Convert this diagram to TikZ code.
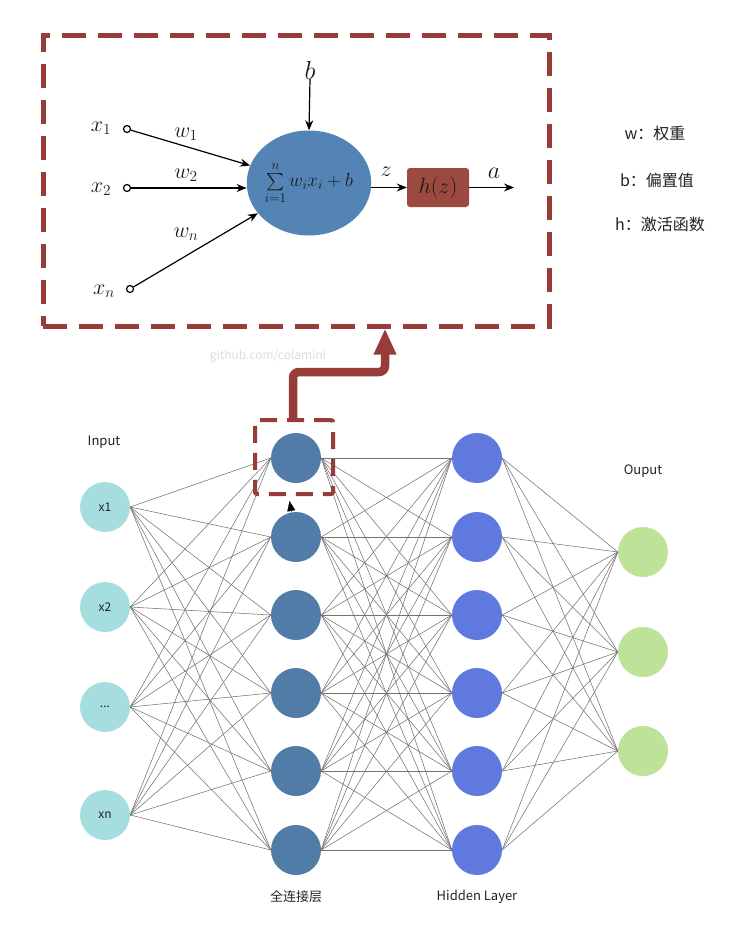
\documentclass[tikz,border=0pt]{standalone}
\usepackage{fix-cm}
\usepackage{amsmath}
\usepackage{fontspec}
\newfontfamily\cjk{Noto Sans CJK SC}
\usetikzlibrary{shapes.geometric,arrows.meta,backgrounds}
\definecolor{inputc}{HTML}{A6DEE0}
\definecolor{fcc}{HTML}{527CA8}
\definecolor{hidc}{HTML}{6079DF}
\definecolor{outc}{HTML}{BDE298}
\definecolor{boxred}{HTML}{973C38}
\definecolor{neub}{HTML}{5384B5}
\definecolor{hzc}{HTML}{9C4A40}
\definecolor{edgec}{HTML}{737373}
\definecolor{wmark}{HTML}{DCDCDC}
\definecolor{txt}{HTML}{222222}
\definecolor{mtxt}{HTML}{1A1A1A}
\tikzset{
  neuron/.style={circle,minimum size=50pt,inner sep=0pt,font=\cjk\fontsize{12}{14}\selectfont,text=txt},
  inp/.style={neuron,fill=inputc},
  fcn/.style={neuron,fill=fcc},
  hidn/.style={neuron,fill=hidc},
  outn/.style={neuron,fill=outc},
  conn/.style={draw=edgec,line width=0.55pt},
  lbl/.style={font=\cjk\fontsize{13}{15}\selectfont,text=txt},
  note/.style={font=\cjk\fontsize{16}{18}\selectfont,text=txt},
  mlab/.style={font=\fontsize{22}{26}\selectfont,inner sep=0pt,text=mtxt},
  port/.style={circle,draw,line width=1.2pt,minimum size=7pt,inner sep=0pt},
  marr/.style={line width=1.2pt,-{Stealth[length=10pt,width=8pt]}},
  bigbox/.style={draw=boxred,line width=5pt,dash pattern=on 24pt off 12pt,minimum width=506pt,minimum height=291pt,inner sep=0pt},
  smallbox/.style={draw=boxred,line width=4pt,dash pattern=on 17pt off 10pt,minimum width=78pt,minimum height=74pt,inner sep=0pt,rounded corners=2pt},
}
\begin{document}
\begin{tikzpicture}[x=1pt,y=-1pt]
\useasboundingbox (0,0) rectangle (742,948);
% ---------- network ----------
\node[inp] (in1) at (105,507) {x1};
\node[inp] (in2) at (105,607) {x2};
\node[inp] (in3) at (105,707) {...};
\node[inp] (in4) at (105,815) {xn};
\foreach \i/\y in {1/458,2/537,3/615,4/693,5/771,6/850}{
  \node[fcn] (f\i) at (296,\y) {};
  \node[hidn] (h\i) at (477,\y) {};
}
\foreach \i/\y in {1/552,2/652,3/751}
  \node[outn] (o\i) at (643,\y) {};
\begin{scope}[on background layer]
\foreach \a in {1,2,3,4}\foreach \b in {1,2,3,4,5,6}
  \draw[conn] (in\a.east) -- (f\b.west);
\foreach \a in {1,2,3,4,5,6}\foreach \b in {1,2,3,4,5,6}
  \draw[conn] (f\a.east) -- (h\b.west);
\foreach \a in {1,2,3,4,5,6}\foreach \b in {1,2,3}
  \draw[conn] (h\a.east) -- (o\b.west);
\end{scope}
\node[lbl] (linp) at (104,442) {Input};
\node[lbl] (lout) at (643,471) {Ouput};
\node[lbl] (lfc) at (296,897) {全连接层};
\node[lbl] (lhid) at (477,897) {Hidden Layer};
% ---------- highlight ----------
\node[smallbox] (sbox) at (294,457) {};
\coordinate (t0) at (291.5,512);
\coordinate (tip) at (289.5,501);
\draw[line width=0.3pt,-{Triangle[length=10pt,width=8pt]}] (t0) -- (tip);
\node[bigbox] (bbox) at (296,180.5) {};
\coordinate (k1) at (293,372);
\coordinate (k2) at (385,372);
\draw[boxred,line width=8.5pt,rounded corners=6pt,-{Triangle[length=26pt,width=21pt]}]
  (sbox.north -| k1) -- (k1) -- (k2) -- (bbox.south -| k2);
\node[font=\cjk\fontsize{12}{14}\selectfont,text=wmark] (wm) at (268,356) {github.com/colamini};
% ---------- neuron ----------
\node[ellipse,fill=neub,minimum width=122pt,minimum height=105pt,inner sep=0pt,text=mtxt,font=\fontsize{19}{22}\selectfont] (neu) at (309,183)
  {$\textstyle\sum\limits_{i=1}^{n} w_i x_i + b$};
\node[mlab,font=\fontsize{26}{30}\selectfont] (lb) at (310,70) {$b$};
\node[port] (c1) at (127,129) {};
\node[port] (c2) at (127,188) {};
\node[port] (cn) at (130,289) {};
\node[mlab] (lx1) at (101,128) {$x_1$};
\node[mlab] (lx2) at (101,189) {$x_2$};
\node[mlab] (lxn) at (104,291) {$x_n$};
\node[mlab] (lw1) at (186,134) {$w_1$};
\node[mlab] (lw2) at (186,175) {$w_2$};
\node[mlab] (lwn) at (186,234) {$w_n$};
\node[fill=hzc,rounded corners=3pt,minimum width=62pt,minimum height=39pt,inner sep=0pt,text=mtxt,font=\fontsize{22}{26}\selectfont] (hz) at (438,187.5) {$h(z)$};
\node[mlab] (lz) at (386,172) {$z$};
\node[mlab,font=\fontsize{24}{28}\selectfont] (la) at (494,173) {$a$};
\coordinate (aend) at (514,187.5);
\draw[marr] (c1) -- (neu);
\draw[marr] (c2) -- (c2 -| neu.west);
\draw[marr] (cn) -- (neu);
\draw[marr] (lb.south) -- (neu.north);
\draw[marr] (neu.east |- hz.west) -- (hz.west);
\draw[marr] (hz.east) -- (aend);
% ---------- notes ----------
\node[note] (n1) at (655,133) {w：权重};
\node[note] (n2) at (657,180) {b：偏置值};
\node[note] (n3) at (660,224) {h：激活函数};
\end{tikzpicture}
\end{document}
